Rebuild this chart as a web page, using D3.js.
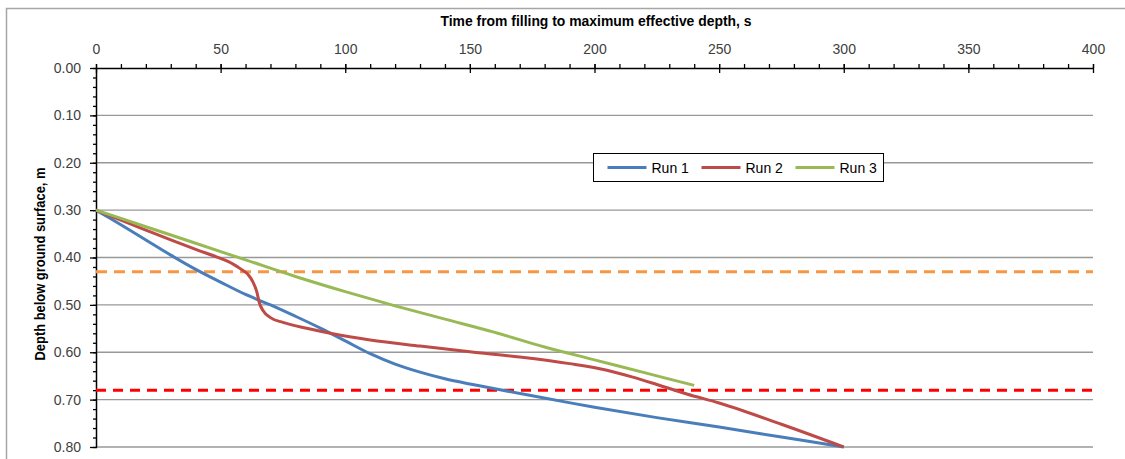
<!DOCTYPE html>
<html>
<head>
<meta charset="utf-8">
<script src="https://cdn.jsdelivr.net/npm/d3@7"></script>
<style>
  html, body { margin: 0; padding: 0; background: #fff; }
  svg { display: block; }
  text { font-family: "Liberation Sans", Arial, sans-serif; }
</style>
</head>
<body>
<div id="chart"></div>
<script>
// Time (s) and depth (m)
const run1Time  = [0, 10, 20, 30, 40, 50, 60, 70, 80, 90, 100, 110, 120, 130, 140, 150, 160, 175, 200, 225, 250, 275, 300];
const run1Depth = [0.300, 0.331, 0.363, 0.395, 0.425, 0.452, 0.478, 0.500, 0.524, 0.549, 0.576, 0.603, 0.625, 0.642, 0.656, 0.667, 0.677, 0.692, 0.716, 0.738, 0.758, 0.779, 0.800];

const run2Time  = [0, 10, 20, 30, 40, 50, 55, 58, 61, 63, 64.5, 65.5, 67, 70, 75, 85, 95, 110, 130, 150, 170, 190, 205, 215, 225, 237, 250, 275, 300];
const run2Depth = [0.300, 0.321, 0.342, 0.363, 0.383, 0.402, 0.414, 0.424, 0.436, 0.452, 0.472, 0.495, 0.512, 0.527, 0.537, 0.550, 0.561, 0.574, 0.587, 0.599, 0.610, 0.624, 0.638, 0.652, 0.668, 0.688, 0.707, 0.752, 0.800];

const run3Time  = [0, 20, 40, 60, 80, 100, 120, 140, 160, 180, 200, 220, 240];
const run3Depth = [0.300, 0.335, 0.370, 0.405, 0.440, 0.472, 0.502, 0.530, 0.558, 0.589, 0.616, 0.643, 0.670];

const seriesNames  = ['Run 1', 'Run 2', 'Run 3'];
const seriesColors = ['#4a7ebb', '#be4b48', '#98b954'];

const refDepths = [0.43, 0.68];
const refColors = ['#f79646', '#ff0000'];

const xMajorTicks = [0, 50, 100, 150, 200, 250, 300, 350, 400];
const yMajorTicks = [0, 0.1, 0.2, 0.3, 0.4, 0.5, 0.6, 0.7, 0.8];

const xTitle = 'Time from filling to maximum effective depth, s';
const yTitle = 'Depth below ground surface, m';

const W = 1125, H = 459;
const svg = d3.select('#chart').append('svg').attr('width', W).attr('height', H);

// outer chart frame (right/bottom edges fall outside the view)
svg.append('rect')
  .attr('x', 6.5).attr('y', 8.5).attr('width', 1130).attr('height', 470)
  .attr('fill', '#fff').attr('stroke', '#a6a6a6').attr('stroke-width', 1.5);

svg.append('text').attr('x', 84).attr('y', -3).attr('font-size', 13).attr('fill', '#404040').text('_');

const x = d3.scaleLinear().domain([0, 400]).range([96, 1093]);
const y = d3.scaleLinear().domain([0, 0.8]).range([68, 447]);

// horizontal gridlines
svg.append('g').selectAll('line')
  .data(yMajorTicks.filter(d => d > 0))
  .join('line')
  .attr('x1', x(0)).attr('x2', x(400))
  .attr('y1', d => y(d)).attr('y2', d => y(d))
  .attr('stroke', '#989898').attr('stroke-width', 1.3);

const tickFont = 'Roboto, "Liberation Sans", sans-serif';

// top x axis
const xMinor = d3.range(0, 401, 10);
svg.append('g').attr('transform', `translate(0,${y(0)})`)
  .call(d3.axisTop(x).tickValues(xMinor).tickSize(4).tickFormat(''))
  .call(g => g.select('.domain').remove());
svg.append('g').attr('transform', `translate(0,${y(0)})`)
  .call(d3.axisBottom(x).tickValues(xMajorTicks).tickSize(5).tickFormat(''))
  .call(g => g.select('.domain').remove());
svg.append('g').attr('transform', `translate(0,${y(0)})`)
  .call(d3.axisTop(x).tickValues(xMajorTicks).tickSize(4).tickSizeOuter(0).tickPadding(10).tickFormat(d3.format('d')))
  .call(g => g.select('.domain').attr('stroke-width', 1.5))
  .call(g => g.selectAll('text').attr('font-size', 14).attr('fill', '#404040').attr('font-family', tickFont));

// left y axis
const yMinor = d3.range(0, 0.801, 0.02);
svg.append('g').attr('transform', `translate(${x(0)},0)`)
  .call(d3.axisLeft(y).tickValues(yMinor).tickSize(3).tickFormat(''))
  .call(g => g.select('.domain').remove());
svg.append('g').attr('transform', `translate(${x(0)},0)`)
  .call(d3.axisRight(y).tickValues(yMajorTicks).tickSize(1).tickFormat(''))
  .call(g => g.select('.domain').remove());
svg.append('g').attr('transform', `translate(${x(0)},0)`)
  .call(d3.axisLeft(y).tickValues(yMajorTicks).tickSize(6).tickSizeOuter(0).tickPadding(9).tickFormat(d3.format('.2f')))
  .call(g => g.select('.domain').attr('stroke-width', 1.5))
  .call(g => g.selectAll('text').attr('font-size', 14).attr('fill', '#404040').attr('font-family', tickFont));

svg.selectAll('.tick line').attr('stroke', '#000').attr('stroke-width', 1.3);

// axis titles
svg.append('text')
  .attr('x', 596).attr('y', 26).attr('text-anchor', 'middle')
  .attr('font-size', 14).attr('font-weight', 'bold').attr('fill', '#000')
  .attr('textLength', 311).attr('lengthAdjust', 'spacingAndGlyphs')
  .text(xTitle);
svg.append('text')
  .attr('transform', 'translate(45,264) rotate(-90)').attr('text-anchor', 'middle')
  .attr('font-size', 14).attr('font-weight', 'bold').attr('fill', '#000')
  .attr('textLength', 193).attr('lengthAdjust', 'spacingAndGlyphs')
  .text(yTitle);

// dashed reference depths
svg.append('g').selectAll('line')
  .data(refDepths)
  .join('line')
  .attr('x1', x(0)).attr('x2', x(400))
  .attr('y1', d => y(d)).attr('y2', d => y(d))
  .attr('stroke', (d, i) => refColors[i]).attr('stroke-width', 3)
  .attr('stroke-dasharray', (d, i) => i === 0 ? '11,7' : '10,7');

// data series (red has a sharp S-bend, so keep it monotone)
const series = [
  run1Time.map((t, i) => [t, run1Depth[i]]),
  run2Time.map((t, i) => [t, run2Depth[i]]),
  run3Time.map((t, i) => [t, run3Depth[i]])
];
const curves = [d3.curveCatmullRom, d3.curveMonotoneX, d3.curveCatmullRom];
svg.append('g').selectAll('path')
  .data(series)
  .join('path')
  .attr('d', (d, i) => d3.line().x(p => x(p[0])).y(p => y(p[1])).curve(curves[i])(d))
  .attr('fill', 'none')
  .attr('stroke', (d, i) => seriesColors[i])
  .attr('stroke-width', 3)
  .attr('stroke-linejoin', 'round');

// legend
const legend = svg.append('g').attr('transform', 'translate(593.5,153.5)');
legend.append('rect').attr('width', 290).attr('height', 28)
  .attr('fill', '#fff').attr('stroke', '#000').attr('stroke-width', 1);
const items = legend.selectAll('g.item')
  .data(seriesNames)
  .join('g').attr('class', 'item')
  .attr('transform', (d, i) => `translate(${14 + i * 94},14)`);
items.append('line').attr('x1', 0).attr('x2', 39)
  .attr('stroke', (d, i) => seriesColors[i]).attr('stroke-width', 3);
items.append('text').attr('x', 44).attr('y', 5)
  .attr('font-size', 14).attr('fill', '#000')
  .attr('font-family', tickFont)
  .text(d => d);
</script>
</body>
</html>
